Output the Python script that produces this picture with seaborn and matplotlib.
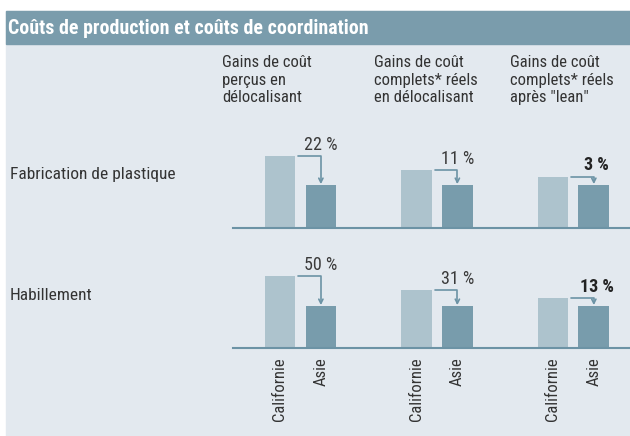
import matplotlib
matplotlib.use("Agg")
import matplotlib.pyplot as plt
import pandas as pd
import seaborn as sns
from matplotlib.patches import Rectangle

# data (relative cost, arbitrary units)
groups = ["percus", "complets", "lean"]
headers = ["Gains de coût\nperçus en\ndélocalisant",
           "Gains de coût\ncomplets* réels\nen délocalisant",
           "Gains de coût\ncomplets* réels\naprès \"lean\""]
regions = ["Californie", "Asie"]
rows = ["Fabrication de plastique", "Habillement"]
plastique_cal = [72, 58, 51]
plastique_asie = [43, 43, 43]
habillement_cal = [72, 58, 50]
habillement_asie = [42, 42, 42]
plastique_gain = ["22 %", "11 %", "3 %"]
habillement_gain = ["50 %", "31 %", "13 %"]

sns.set_style("white")
plt.rcParams["font.family"] = ["Roboto Condensed", "Roboto", "DejaVu Sans"]

W, H = 630, 436
bg = "#e3e9ef"
head = "#7a9cac"
light = "#adc3cd"
dark = "#789cac"
line_c = "#6c93a5"
txt = "#333333"

fig = plt.figure(figsize=(W / 100, H / 100), dpi=100)
fig.patch.set_facecolor("white")
fig.patches.append(Rectangle((6 / W, 0), 1 - 6 / W, 1 - 11 / H, transform=fig.transFigure,
                             color=bg, zorder=-5))
fig.patches.append(Rectangle((6 / W, 1 - 44 / H), 1 - 6 / W, 33 / H, transform=fig.transFigure,
                             color=head, zorder=-5))
fig.text(8 / W, 1 - 28 / H, "Coûts de production et coûts de coordination", color="white",
         fontsize=14.3, fontweight="bold", va="center", ha="left")

for x, h in zip([222, 374, 510], headers):
    fig.text(x / W, 1 - 55 / H, h, fontsize=12, color=txt, va="top", ha="left", linespacing=1.22)


def draw_row(ax, cal, asie, gains, last):
    df = pd.DataFrame({
        "groupe": groups * 2,
        "region": [regions[0]] * 3 + [regions[1]] * 3,
        "cout": cal + asie,
    })
    sns.barplot(data=df, x="groupe", y="cout", hue="region", palette=[light, dark],
                width=0.6, gap=0.25, legend=False, ax=ax, saturation=1, linewidth=0)
    ax.set_xlim(-0.494, 2.415)
    ax.set_ylim(0, 90)
    ax.patch.set_visible(False)
    for s in ["top", "left", "right"]:
        ax.spines[s].set_visible(False)
    ax.spines["bottom"].set_color(line_c)
    ax.spines["bottom"].set_linewidth(1.5)
    ax.set_yticks([])
    ax.set_xlabel("")
    ax.set_ylabel("")
    bars = ax.patches[:6]
    cal_bars, asie_bars = bars[:3], bars[3:]
    for i, (cb, ab) in enumerate(zip(cal_bars, asie_bars)):
        x0 = cb.get_x() + cb.get_width() + 0.02
        xc = ab.get_x() + ab.get_width() / 2
        ax.annotate("", xy=(xc, ab.get_height() + 0.8), xytext=(x0, cb.get_height()),
                    arrowprops=dict(arrowstyle="->,head_length=0.3,head_width=0.15", color=line_c,
                                    lw=1.2, shrinkA=0, shrinkB=0,
                                    connectionstyle="angle,angleA=0,angleB=90,rad=0"))
        bold = i == 2
        ax.text(xc + (0.02 if bold else 0), cb.get_height() + 2.5, gains[i], ha="center",
                va="bottom", fontsize=13, color="#222222" if bold else "#3a3a3a",
                fontweight="bold" if bold else "normal")
    if last:
        centers = [b.get_x() + b.get_width() / 2 for b in cal_bars + asie_bars]
        ax.set_xticks(centers)
        ax.set_xticklabels([regions[0]] * 3 + [regions[1]] * 3, rotation=90, fontsize=12,
                           color=txt, va="top", ha="center")
        ax.tick_params(axis="x", length=0, pad=7)
    else:
        ax.set_xticks([])


ax1 = fig.add_axes([233 / W, 1 - 228 / H, 1 - 233 / W, 90 / H])
ax2 = fig.add_axes([233 / W, 1 - 348 / H, 1 - 233 / W, 90 / H])
draw_row(ax1, plastique_cal, plastique_asie, plastique_gain, False)
draw_row(ax2, habillement_cal, habillement_asie, habillement_gain, True)

fig.text(10 / W, 1 - 175 / H, rows[0], fontsize=12.5, color=txt, va="center", ha="left")
fig.text(10 / W, 1 - 295 / H, rows[1], fontsize=12.5, color=txt, va="center", ha="left")

plt.savefig("out.png", dpi=100)
